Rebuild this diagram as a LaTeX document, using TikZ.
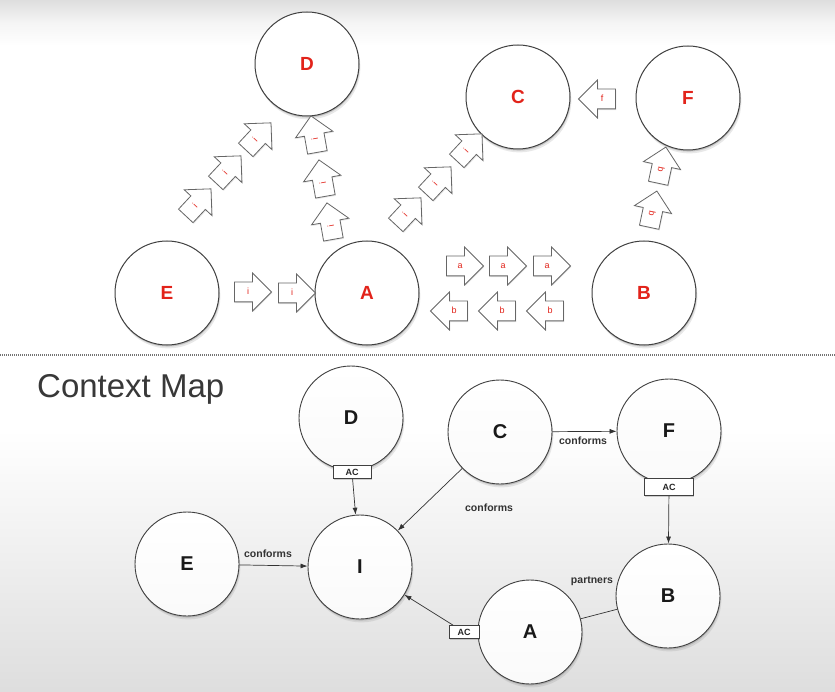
\documentclass[tikz,border=0pt]{standalone}
\usepackage{fontspec}
\setmainfont{Liberation Sans}
\usetikzlibrary{shapes.arrows,shadows,arrows.meta}
\definecolor{lblred}{HTML}{E2231A}
\definecolor{edgecol}{HTML}{333333}
\tikzset{
  softshadow/.style={
    drop shadow={shadow xshift=0.6pt, shadow yshift=-1.6pt, opacity=.35},
    drop shadow={shadow xshift=1.4pt, shadow yshift=-3.4pt, opacity=.18}},
  topcirc/.style={circle, draw=black!75, line width=1pt, fill=white, minimum size=104pt, inner sep=0pt,
    font=\bfseries\fontsize{19}{19}\selectfont, text=lblred, softshadow},
  botcirc/.style={circle, draw=black!75, line width=0.9pt, top color=white, bottom color=black!2,
    minimum size=104pt, inner sep=0pt, font=\bfseries\fontsize{20}{20}\selectfont, text=black!90,
    softshadow},
  barrow/.style={single arrow, draw=black!60, line width=0.8pt, fill=white, minimum height=37pt,
    single arrow head extend=9pt, inner sep=0pt, text height=12.5pt, text depth=6.5pt,
    font=\fontsize{9}{9}\selectfont, text=lblred,
    drop shadow={shadow xshift=0.8pt, shadow yshift=-1.2pt, opacity=.18}},
  leftarrow/.style={barrow, shape border rotate=180},
  acbox/.style={draw=black!75, fill=white, line width=0.8pt, inner sep=0pt,
    font=\bfseries\fontsize{9}{9}\selectfont, text=black!85,
    drop shadow={shadow xshift=0.8pt, shadow yshift=-1.5pt, opacity=.35}},
  conn/.style={draw=edgecol, line width=0.7pt, -{Latex[length=7pt,width=5pt]}},
  plainconn/.style={draw=edgecol, line width=0.7pt},
  elabel/.style={font=\bfseries\fontsize{10.5}{10.5}\selectfont, text=black!80, inner sep=0pt},
}
\begin{document}
\begin{tikzpicture}[x=1pt,y=-1pt]
\useasboundingbox (0,0) rectangle (835,692);
% background
\fill[white] (0,0) rectangle (835,692);
\shade[top color=black!13, bottom color=white, middle color=black!4] (0,0) rectangle (835,46);
\shade[top color=white, bottom color=black!13] (0,430) rectangle (835,692);
% separator
\draw[black!55, line width=1.2pt, dash pattern=on 1pt off 1pt] (0,355) -- (835,355);

% ===== top part =====
\node[topcirc] (tD) at (307,64) {D};
\node[topcirc] (tC) at (518,97) {C};
\node[topcirc] (tF) at (688,98) {F};
\node[topcirc] (tE) at (167,293) {E};
\node[topcirc] (tA) at (367,293) {A};
\node[topcirc] (tB) at (644,293) {B};

% E -> A
\node[barrow] (ea1) at (248,292) {i};
\node[barrow] (ea2) at (292,293) {i};
% A -> B
\node[barrow] (ab1) at (460,266) {a};
\node[barrow] (ab2) at (503,266) {a};
\node[barrow] (ab3) at (547,266) {a};
% B -> A
\node[leftarrow] (ba1) at (454,311) {b};
\node[leftarrow] (ba2) at (502,311) {b};
\node[leftarrow] (ba3) at (550,311) {b};
% F -> C
\node[leftarrow] (fc1) at (602,99) {f};
% E -> D
\node[barrow, rotate=47] (ed1) at (195,206) {i};
\node[barrow, rotate=47] (ed2) at (225,173) {i};
\node[barrow, rotate=47] (ed3) at (255,140) {i};
% A -> D
\node[barrow, rotate=100] (ad1) at (331,226) {i};
\node[barrow, rotate=100] (ad2) at (323,183) {i};
\node[barrow, rotate=100] (ad3) at (315,139) {i};
% A -> C
\node[barrow, rotate=47] (ac1) at (405,215) {i};
\node[barrow, rotate=47] (ac2) at (435,184) {i};
\node[barrow, rotate=47] (ac3) at (466,151) {i};
% B -> F
\node[leftarrow, rotate=-102] (bf1) at (652,214) {b};
\node[leftarrow, rotate=-102] (bf2) at (661,170) {b};

% ===== Context map =====
\node[anchor=base west, inner sep=0pt, font=\fontsize{33}{33}\selectfont, text=black!78] (title) at (37,397) {Context Map};

\node[botcirc] (D2) at (351,418) {D};
\node[botcirc] (C2) at (500,432) {C};
\node[botcirc] (F2) at (669,431) {F};
\node[botcirc] (E2) at (187,564) {E};
\node[botcirc] (I2) at (360,567) {I};
\node[botcirc] (B2) at (668,596) {B};
\node[botcirc] (A2) at (530,632) {A};

\node[acbox, minimum width=38pt, minimum height=13pt] (acD) at (352,472) {AC};
\node[acbox, minimum width=49pt, minimum height=17pt] (acF) at (669,487) {AC};
\node[acbox, minimum width=30pt, minimum height=13pt] (acA) at (464,632) {AC};

\draw[conn] (acD) -- (I2);
\draw[conn] (C2) -- (I2);
\draw[conn] (C2) -- (F2);
\draw[conn] (acF) -- (B2);
\draw[conn] (E2) -- (I2);
\draw[conn] (acA) -- (I2);
\draw[plainconn] (A2) -- (B2);

\node[elabel] (l1) at (489,508) {conforms};
\node[elabel] (l2) at (583,441) {conforms};
\node[elabel] (l3) at (268,554) {conforms};
\node[elabel] (l4) at (592,581) {partners};
\end{tikzpicture}
\end{document}
